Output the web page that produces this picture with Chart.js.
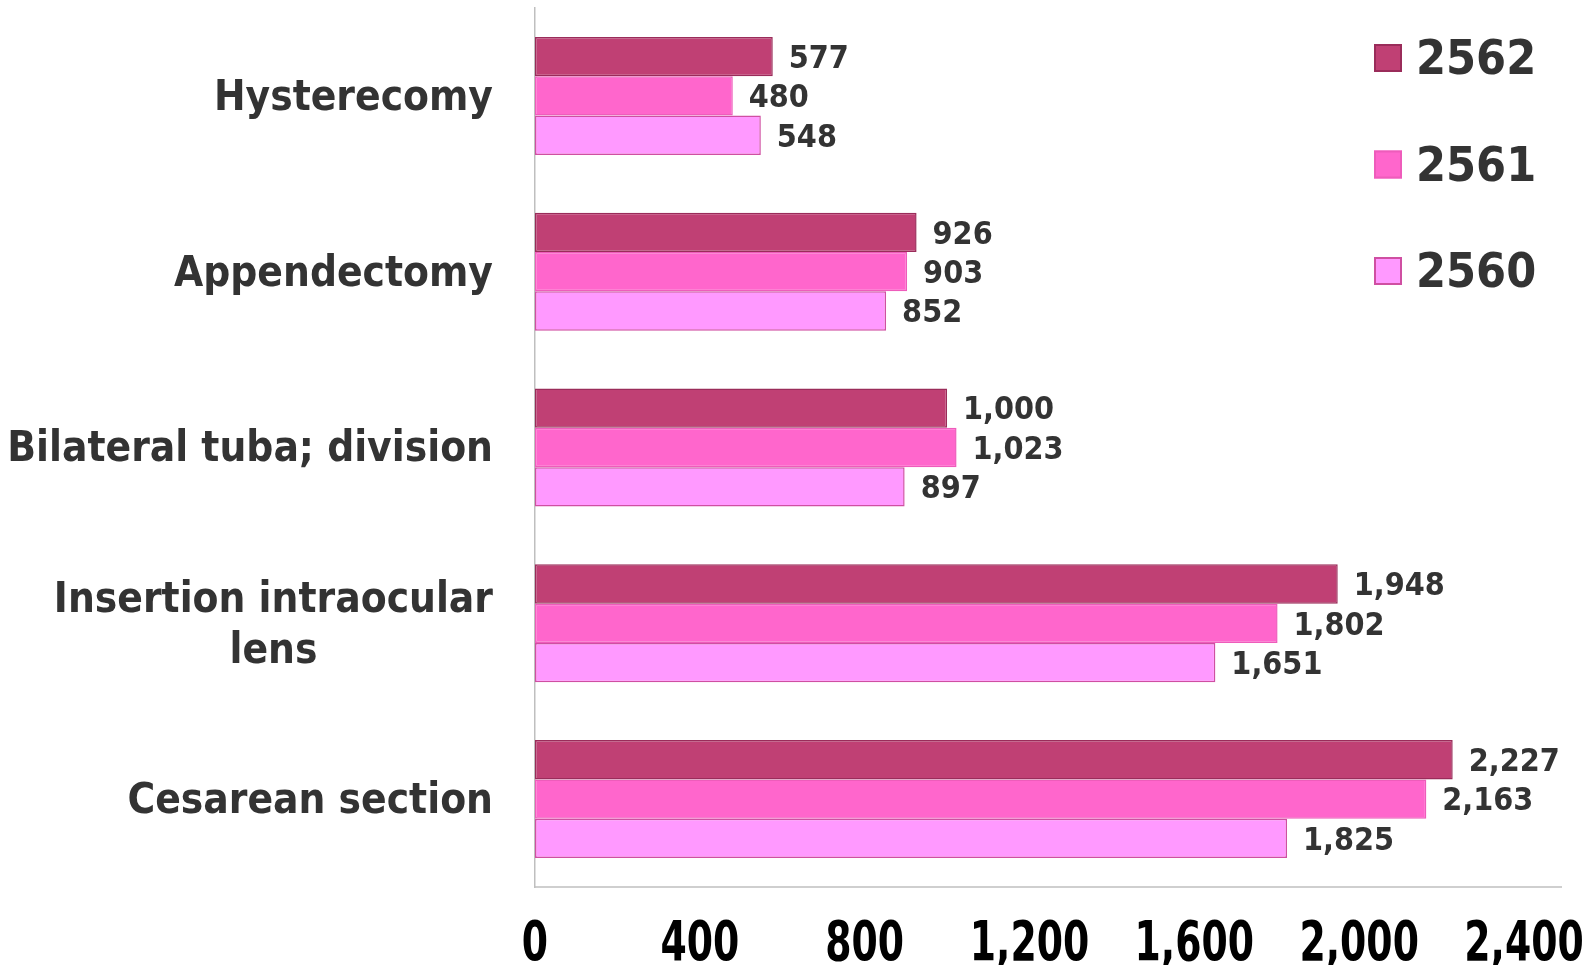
<!DOCTYPE html>
<html>
<head>
<meta charset="utf-8">
<script src="https://cdn.jsdelivr.net/npm/chart.js@4.4.1/dist/chart.umd.min.js"></script>
<style>
  html, body { margin: 0; padding: 0; background: #fff; }
  #wrap { width: 1588px; height: 965px; position: relative; }
</style>
</head>
<body>
<div id="wrap"><canvas id="surgeryChart"></canvas></div>
<script>
// categories, top to bottom
const categories = [
    'Hysterecomy',
    'Appendectomy',
    'Bilateral tuba; division',
    ['Insertion intraocular', 'lens'],
    'Cesarean section'
];
const years = ['2562', '2561', '2560'];
const values2562 = [577, 926, 1000, 1948, 2227];
const values2561 = [480, 903, 1023, 1802, 2163];
const values2560 = [548, 852, 897, 1651, 1825];
const xTicks = [0, 400, 800, 1200, 1600, 2000, 2400];

const fills = ['#C04074', '#FF66CC', '#FF99FF'];
const borders = ['#9A2C5A', '#EE5CBB', '#CF4FA2'];

const FONT = '"DejaVu Sans Condensed", "DejaVu Sans", Verdana, sans-serif';
const fmt = v => v.toLocaleString('en-US');

// draws category labels, value labels, x ticks, legend and the long bottom rule
const decorations = {
    id: 'decorations',
    afterDraw(chart) {
        const ctx = chart.ctx;
        const area = chart.chartArea;
        const yScale = chart.scales.y;
        const xScale = chart.scales.x;
        ctx.save();

        // bottom axis rule, runs a bit past the plot
        ctx.strokeStyle = '#BFBFBF';
        ctx.lineWidth = 1.5;
        ctx.beginPath();
        ctx.moveTo(area.left, area.bottom);
        ctx.lineTo(area.right + 38, area.bottom);
        ctx.stroke();

        // category labels: right aligned block, lines centred inside it
        ctx.fillStyle = '#333333';
        ctx.font = 'bold 42px ' + FONT;
        ctx.textBaseline = 'middle';
        const rightEdge = area.left - 42;
        chart.data.labels.forEach((lab, i) => {
            const lines = Array.isArray(lab) ? lab : [lab];
            const yc = yScale.getPixelForValue(i) + 3;
            const lh = 51;
            const widest = Math.max(...lines.map(l => ctx.measureText(l).width));
            lines.forEach((l, j) => {
                const y = yc + (j - (lines.length - 1) / 2) * lh;
                if (lines.length > 1) {
                    ctx.textAlign = 'center';
                    ctx.fillText(l, rightEdge - widest / 2, y);
                } else {
                    ctx.textAlign = 'right';
                    ctx.fillText(l, rightEdge, y);
                }
            });
        });

        // value labels
        ctx.font = 'bold 32px ' + FONT;
        ctx.textAlign = 'left';
        chart.data.datasets.forEach((ds, di) => {
            const meta = chart.getDatasetMeta(di);
            meta.data.forEach((bar, i) => {
                ctx.fillText(fmt(ds.data[i]), bar.x + 16, bar.y + 3);
            });
        });

        // x tick labels (tall, narrow look)
        ctx.fillStyle = '#000';
        ctx.font = 'bold 42px ' + FONT;
        ctx.textAlign = 'center';
        const sy = 1.3;
        xTicks.forEach(v => {
            const x = xScale.getPixelForValue(v);
            ctx.save();
            ctx.translate(x, 945);
            ctx.scale(1, sy);
            ctx.fillText(fmt(v), 0, 1);
            ctx.restore();
        });

        // legend
        ctx.font = 'bold 48px ' + FONT;
        ctx.textAlign = 'left';
        chart.data.datasets.forEach((ds, di) => {
            const yc = 58 + di * 106.5;
            ctx.fillStyle = ds.backgroundColor;
            ctx.fillRect(1374, yc - 14, 28, 28);
            ctx.strokeStyle = ds.borderColor;
            ctx.lineWidth = 2;
            ctx.strokeRect(1375, yc - 13, 26, 26);
            ctx.fillStyle = '#333333';
            ctx.fillText(ds.label, 1416, yc + 4);
        });

        ctx.restore();
    }
};

const series = [values2562, values2561, values2560];

new Chart(document.getElementById('surgeryChart'), {
    type: 'bar',
    data: {
        labels: categories,
        datasets: years.map((yr, i) => ({
            label: yr,
            data: series[i],
            backgroundColor: fills[i],
            borderColor: borders[i],
            borderWidth: 1.5,
            borderSkipped: false,
            categoryPercentage: 0.671,
            barPercentage: 1.0
        }))
    },
    options: {
        indexAxis: 'y',
        responsive: true,
        maintainAspectRatio: false,
        animation: false,
        layout: { padding: { top: 8, right: 64, left: 0, bottom: 0 } },
        plugins: {
            legend: { display: false },
            tooltip: { enabled: false }
        },
        scales: {
            x: {
                min: 0,
                max: 2400,
                grid: { display: false },
                border: { display: false },
                ticks: { display: false, stepSize: 400 },
                afterFit(scale) { scale.height = 78; }
            },
            y: {
                grid: { display: false },
                border: { display: true, color: '#BFBFBF', width: 1.5 },
                ticks: { display: false },
                afterFit(scale) { scale.width = 535; }
            }
        }
    },
    plugins: [decorations]
});
</script>
</body>
</html>
